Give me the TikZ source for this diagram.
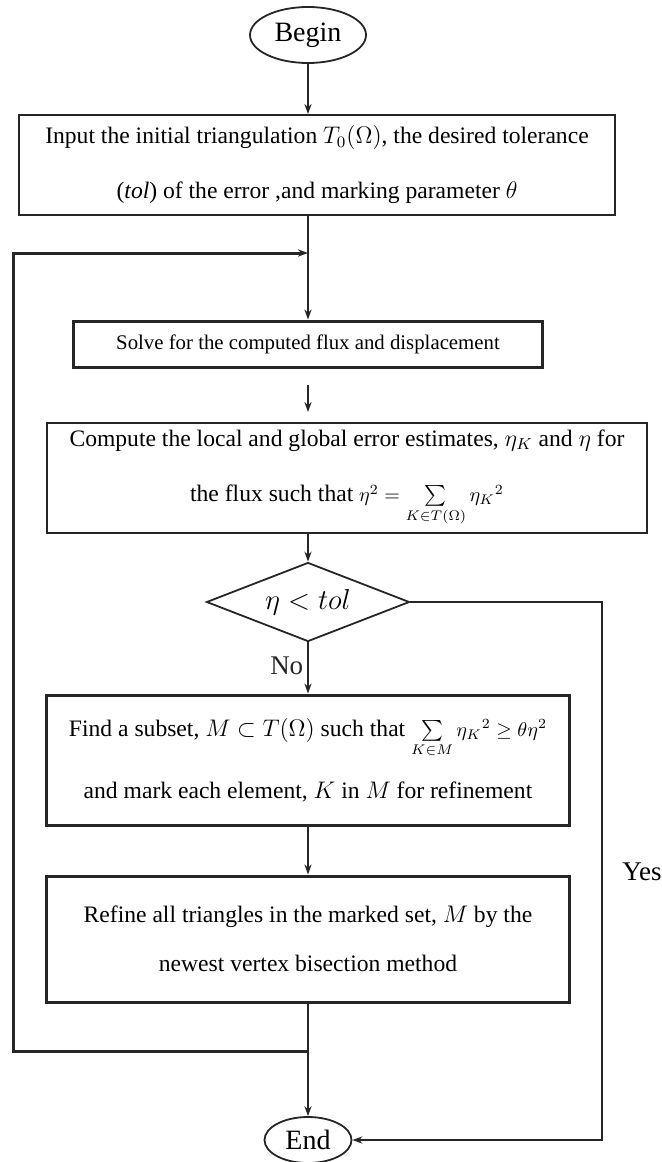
\documentclass[tikz,border=0pt]{standalone}
\usepackage{amsmath}
\usepackage{amssymb}
\usepackage{fontspec}
\setmainfont{Liberation Serif}
\usetikzlibrary{arrows.meta,positioning,shapes.geometric}
\colorlet{fcline}{black!85}
\tikzset{
  fcstage/.style={
    draw=fcline,
    align=center,
    inner sep=0pt,
    font=\fontsize{11.8}{27.5}\selectfont
  },
  fcbox/.style={fcstage,line width=1pt},
  fcheavy/.style={fcstage,line width=1.5pt},
  fcterm/.style={ellipse,draw=fcline,line width=0.9pt,inner sep=0pt,
                 font=\fontsize{14}{16}\selectfont},
  fcdecide/.style={diamond,draw=fcline,line width=0.9pt,inner sep=0pt,
                   aspect=2.57,font=\fontsize{13.5}{16}\selectfont},
  fcflow/.style={-{Stealth[length=5pt,width=3.6pt]},line width=0.75pt,fcline},
  fcloop/.style={-{Stealth[length=5pt,width=3.6pt]},line width=1.5pt,fcline},
  fclabel/.style={font=\fontsize{13.5}{16}\selectfont,inner sep=2pt}
}
\newcommand{\fcsmall}{\fontsize{10.4}{12}\selectfont}
\begin{document}
\begin{tikzpicture}[x=0.5pt,y=-0.5pt]
  \useasboundingbox (0,0) rectangle (662,1162);
  \node[fcterm,minimum width=58pt,minimum height=28pt] (begin) at (308,35) {Begin};
  \node[fcbox,minimum width=298pt,minimum height=50pt] (input) at (317,165)
    {Input the initial triangulation $T_0(\Omega)$, the desired tolerance\\
     (\textit{tol}) of the error ,and marking parameter $\theta$};
  \node[fcheavy,minimum width=234.5pt,minimum height=23pt,
        font=\fontsize{10.4}{12}\selectfont] (solve) at (308,344)
    {Solve for the computed flux and displacement};
  \node[fcbox,minimum width=300pt,minimum height=55pt] (compute) at (347,478)
    {Compute the local and global error estimates, $\eta_K$ and $\eta$ for\\
     the flux such that {\fcsmall$\eta^2=\sum\limits_{K\in T(\Omega)}{\eta_K}^{2}$}};
  \node[fcdecide,minimum width=101.5pt,minimum height=39.5pt] (test) at (308,602)
    {$\eta < tol$};
  \node[fcheavy,minimum width=261.5pt,minimum height=65pt,
        font=\fontsize{11.8}{31}\selectfont] (find) at (308,760)
    {Find a subset, $M\subset T(\Omega)$ such that {\fcsmall$\sum\limits_{K\in M}{\eta_K}^{2}\ge\theta\eta^2$}\\
     and mark each element, $K$ in $M$ for refinement};
  \node[fcheavy,minimum width=261.5pt,minimum height=63pt,
        font=\fontsize{11.8}{24.5}\selectfont] (refine) at (308,939)
    {Refine all triangles in the marked set, $M$ by the\\
     newest vertex bisection method};
  \node[fcterm,minimum width=43.5pt,minimum height=23pt] (finish) at (308,1140) {End};
  \node[fclabel] (yes) at (642,872) {Yes};

  \coordinate (loopin) at (308,253);
  \coordinate (loopout) at (308,1051);
  \coordinate (loopleft) at (13,650);
  \coordinate (yesright) at (602,900);

  \draw[fcflow] (begin) -- (begin |- input.north);
  \draw[fcflow] (begin |- input.south) -- (solve);
  \draw[fcflow,shorten <=8pt,shorten >=5pt] (solve) -- (solve |- compute.north);
  \draw[fcflow] (solve |- compute.south) -- (test);
  \draw[fcflow] (test) -- node[fclabel,left,pos=0.45] {No} (find);
  \draw[fcflow,line width=1.1pt] (find) -- (refine);
  \draw[fcflow] (refine) -- (finish);
  \draw[fcloop] (loopout) -| (loopleft) |- (loopin);
  \draw[fcflow] (test.east) -| (yesright) |- (finish);
\end{tikzpicture}
\end{document}
